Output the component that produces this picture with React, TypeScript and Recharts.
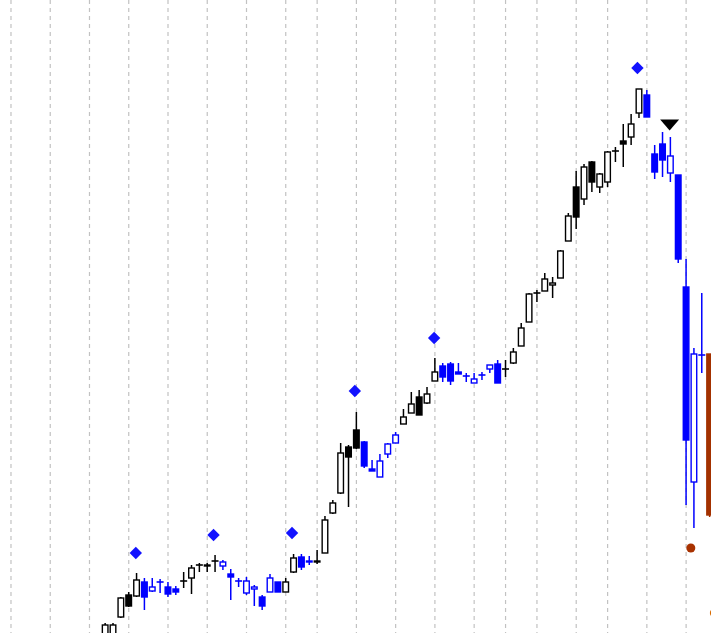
import React from 'react';
import { ComposedChart, Bar, XAxis, YAxis, CartesianGrid, Scatter } from 'recharts';

// candle index (trading sessions)
const indices: number[] = Array.from({ length: 78 }, (_, k) => 12 + k);

const opens: number[] = [-7, -7, 16, 38, 37, 51, 42, 51, 46, 44, 52, 55, 68, 68, 72, 67, 59, 52, 40, 44, 36, 41, 51, 41, 61, 76, 72, 71, 80, 120, 140, 186, 203, 191, 164, 156, 179, 190, 209, 220, 236, 230, 252, 267, 269, 261, 257, 250, 258, 264, 269, 264, 270, 287, 311, 340, 342, 348, 355, 392, 446, 434, 471, 446, 451, 482, 492, 496, 520, 538, 479, 489, 460, 458, 346, 151, 278, 279];
const highs: number[] = [10, 10, 36, 41, 60, 55, 55, 54, 51, 47, 61, 68, 70, 70, 78, 73, 64, 55, 56, 48, 38, 59, 51, 55, 79, 79, 77, 83, 117, 133, 190, 188, 221, 192, 173, 179, 190, 201, 224, 241, 243, 246, 275, 270, 271, 270, 260, 260, 261, 268, 273, 273, 285, 310, 340, 343, 360, 356, 383, 420, 462, 469, 472, 460, 482, 486, 509, 519, 544, 543, 488, 501, 496, 458, 374, 285, 340, 279];
const lows: number[] = [-9, -9, 15, 26, 36, 23, 41, 40, 36, 38, 45, 39, 61, 61, 61, 63, 33, 46, 38, 27, 23, 41, 41, 41, 60, 63, 68, 69, 80, 119, 139, 126, 184, 165, 162, 156, 175, 190, 209, 220, 218, 229, 252, 251, 248, 259, 251, 250, 253, 260, 250, 256, 269, 287, 311, 331, 342, 335, 355, 392, 404, 428, 441, 440, 446, 471, 466, 488, 515, 516, 454, 456, 451, 370, 128, 105, 260, 116];
const closes: number[] = [8, 8, 35, 27, 53, 36, 46, 51, 39, 41, 52, 65, 68, 67, 72, 71, 56, 52, 52, 46, 27, 55, 41, 51, 75, 66, 71, 72, 113, 130, 180, 176, 185, 167, 162, 172, 189, 198, 216, 229, 218, 239, 261, 256, 252, 259, 257, 254, 258, 268, 250, 264, 281, 305, 339, 340, 354, 350, 382, 417, 416, 466, 451, 459, 481, 482, 489, 509, 544, 516, 461, 473, 477, 374, 193, 279, 278, 118];
// colour class of each candle: k = black, b = blue, r = brown
const tones: string[] = [
  'k', 'k', 'k', 'k', 'k',
  'b', 'b', 'b', 'b', 'b',
  'k', 'k', 'k', 'k', 'k',
  'b', 'b', 'b', 'b', 'b', 'b', 'b', 'b',
  'k', 'k',
  'b', 'b',
  'k', 'k', 'k', 'k', 'k', 'k',
  'b', 'b', 'b', 'b', 'b',
  'k', 'k', 'k', 'k', 'k',
  'b', 'b', 'b', 'b', 'b', 'b', 'b', 'b',
  'k', 'k', 'k', 'k', 'k', 'k', 'k', 'k', 'k', 'k', 'k', 'k', 'k', 'k', 'k', 'k', 'k', 'k',
  'b', 'b', 'b', 'b', 'b', 'b', 'b', 'b',
  'r',
];

// weekly grid positions (candle index)
const gridIndices: number[] = [0, 5, 10, 15, 20, 25, 30, 35, 39, 44, 49, 54, 59, 63, 67, 72, 76, 81, 86];

// swing-high markers
const diamondIdx: number[] = [15.9, 25.8, 35.8, 43.8, 53.9, 79.8];
const diamondVal: number[] = [80, 98, 100, 242, 295, 565];
const triangleIdx: number[] = [83.9];
const triangleVal: number[] = [508];
const dotIdx: number[] = [86.6, 89.6];
const dotVal: number[] = [85, 20];
const dotColors: string[] = ['#a83200', '#d96a00'];

const X_DOMAIN: [number, number] = [-1.4, 89.17];
const Y_DOMAIN: [number, number] = [0, 633];

const toneColor: Record<string, string> = { k: '#000000', b: '#0000ff', r: '#a33100' };

const candles = indices.map((i, k) => ({
  i,
  o: opens[k],
  h: highs[k],
  l: lows[k],
  c: closes[k],
  tone: tones[k],
  range: [lows[k], highs[k]],
}));
const diamonds = diamondIdx.map((i, k) => ({ i, p: diamondVal[k] }));
const triangles = triangleIdx.map((i, k) => ({ i, p: triangleVal[k] }));
const dots = dotIdx.map((i, k) => ({ i, p: dotVal[k], color: dotColors[k] }));

const BODY_W = 5.6;

const CandleShape = (props: any) => {
  const { x, y, width, height, payload } = props;
  if (x == null || y == null) return <g />;
  const { o, h, l, c, tone } = payload;
  const col = toneColor[tone];
  const cx = x + width / 2;
  const top = Math.min(y, y + height);
  const bottom = Math.max(y, y + height);
  const span = h - l;
  const toY = (v: number) => (span === 0 ? top : top + ((h - v) / span) * (bottom - top));
  const yo = toY(o);
  const yc = toY(c);
  const bTop = Math.min(yo, yc);
  const bBot = Math.max(yo, yc);
  const up = c > o;
  const doji = Math.abs(o - c) < 0.5;
  return (
    <g>
      <line x1={cx} x2={cx} y1={top} y2={bottom} stroke={col} strokeWidth={1.5} />
      {doji ? (
        <line x1={cx - BODY_W / 2 - 0.7} x2={cx + BODY_W / 2 + 0.7} y1={yo} y2={yo} stroke={col} strokeWidth={1.6} />
      ) : (
        <rect
          x={cx - BODY_W / 2}
          y={bTop}
          width={BODY_W}
          height={Math.max(bBot - bTop, 1)}
          fill={up ? '#ffffff' : col}
          stroke={col}
          strokeWidth={1.4}
        />
      )}
    </g>
  );
};

const DiamondShape = (props: any) => {
  const { cx, cy } = props;
  const r = 6.2;
  return <polygon points={`${cx},${cy - r} ${cx + r},${cy} ${cx},${cy + r} ${cx - r},${cy}`} fill="#1212ff" />;
};

const TriangleShape = (props: any) => {
  const { cx, cy } = props;
  return <polygon points={`${cx - 9.5},${cy - 5.5} ${cx + 9.5},${cy - 5.5} ${cx},${cy + 5.5}`} fill="#000000" />;
};

const DotShape = (props: any) => {
  const { cx, cy, payload } = props;
  return <circle cx={cx} cy={cy} r={4.5} fill={payload.color} />;
};

const gridGenerator = (args: any) => {
  const xAxis = args && args.xAxis;
  if (xAxis && typeof xAxis.scale === 'function') {
    return gridIndices.map((g) => xAxis.scale(g));
  }
  const off = (args && args.offset) || { left: 0, width: 711 };
  return gridIndices.map((g) => off.left + ((g - X_DOMAIN[0]) / (X_DOMAIN[1] - X_DOMAIN[0])) * off.width);
};

export default function App() {
  return (
    <div style={{ position: 'absolute', left: 0, top: 0, width: 716, height: 633, background: '#ffffff' }}>
      <ComposedChart width={716} height={633} data={candles} margin={{ top: 0, right: 5, bottom: 0, left: 0 }}>
        <CartesianGrid
          horizontal={false}
          vertical
          stroke="#c2c2c2"
          strokeWidth={1.2}
          strokeDasharray="4 4"
          verticalCoordinatesGenerator={gridGenerator}
        />
        <XAxis type="number" dataKey="i" domain={X_DOMAIN} ticks={gridIndices} allowDataOverflow hide />
        <YAxis type="number" domain={Y_DOMAIN} allowDataOverflow hide />
        <Bar dataKey="range" barSize={6} shape={<CandleShape />} isAnimationActive={false} />
        <Scatter data={diamonds} dataKey="p" shape={<DiamondShape />} isAnimationActive={false} />
        <Scatter data={triangles} dataKey="p" shape={<TriangleShape />} isAnimationActive={false} />
        <Scatter data={dots} dataKey="p" shape={<DotShape />} isAnimationActive={false} />
      </ComposedChart>
    </div>
  );
}
